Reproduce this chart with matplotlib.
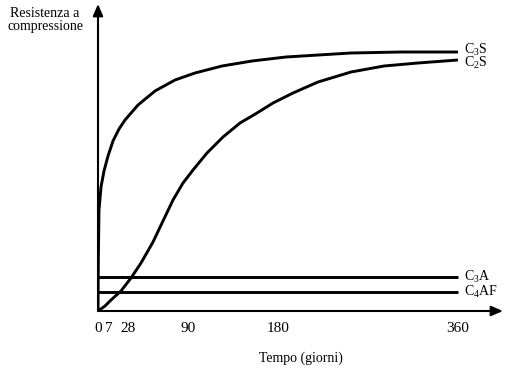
import matplotlib
matplotlib.use("Agg")
import matplotlib.pyplot as plt
from matplotlib.transforms import ScaledTranslation

plt.rcParams["font.family"] = ["Liberation Serif", "DejaVu Serif"]
plt.rcParams["mathtext.fontset"] = "custom"
plt.rcParams["mathtext.rm"] = "Liberation Serif"

# curves (time in days, strength in arbitrary units)
c3s_days = [0, 0.3, 1, 3, 6, 10, 15, 21, 27, 40, 57, 77, 97, 124, 154, 188, 253, 303, 360]
c3s_vals = [0, 50, 101, 124, 140, 155, 170, 182, 191, 206, 220, 231, 238, 245, 250, 254, 258, 259, 259]

c2s_days = [0, 7, 13, 23, 33, 43, 55, 65, 75, 85, 95, 109, 125, 142, 159, 175, 195, 220, 253, 286, 320, 360]
c2s_vals = [0, 5, 11, 20, 33, 48, 69, 90, 111, 128, 141, 158, 174, 188, 198, 208, 218, 229, 239, 245, 248, 251]

flat_days = [0, 360]
c3a_level = 34
c4af_level = 19

tick_days = [0, 7, 28, 90, 180, 360]
labels = ["$\\mathrm{C_3S}$", "$\\mathrm{C_2S}$", "$\\mathrm{C_3A}$", "$\\mathrm{C_4AF}$"]
label_levels = [261, 248, 34, 19]

fig = plt.figure(figsize=(5.08, 3.70), dpi=100)
W, H = 508, 370
ax = fig.add_axes([98 / W, (H - 311) / H, (503 - 98) / W, (311 - 4) / H])
ax.set_xlim(0, 405)
ax.set_ylim(0, 307)

lw = 2.1
ax.plot(c3s_days, c3s_vals, color="black", lw=lw, solid_capstyle="butt")
ax.plot(c2s_days, c2s_vals, color="black", lw=lw, solid_capstyle="butt")
ax.plot(flat_days, [c3a_level] * 2, color="black", lw=lw, solid_capstyle="butt")
ax.plot(flat_days, [c4af_level] * 2, color="black", lw=lw, solid_capstyle="butt")

for lab, lev in zip(labels, label_levels):
    ax.text(366, lev, lab, fontsize=10, va="center", ha="left")

# axes drawn as arrows
for s in ax.spines.values():
    s.set_visible(False)
arrow = dict(arrowstyle="-|>,head_length=0.7,head_width=0.3", color="black",
             lw=1.5, shrinkA=0, shrinkB=0)
ax.annotate("", xy=(1, 0), xytext=(0, 0), xycoords="axes fraction",
            arrowprops=arrow, annotation_clip=False)
ax.annotate("", xy=(0, 1), xytext=(0, 0), xycoords="axes fraction",
            arrowprops=arrow, annotation_clip=False)

ax.set_yticks([])
ax.set_xticks(tick_days)
ax.set_xticklabels([str(d) for d in tick_days], fontsize=11)
ax.tick_params(axis="x", length=0, pad=8)
# nudge the crowded "7" and "28" labels a little to the right, as in the original
for lbl, dx in zip(ax.get_xticklabels()[1:3], [4, 2]):
    lbl.set_transform(lbl.get_transform() + ScaledTranslation(dx / 100, 0, fig.dpi_scale_trans))

ax.set_xlabel("Tempo (giorni)", fontsize=10, labelpad=12)
fig.text(45 / W, 1 - 20 / H, "Resistenza a\ncompressione", fontsize=10,
         ha="center", va="center", linespacing=1.05)

fig.savefig("out.png", dpi=100)
